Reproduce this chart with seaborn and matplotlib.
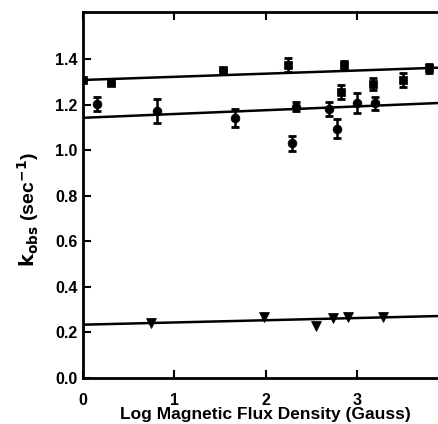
import numpy as np
import pandas as pd
import seaborn as sns
from matplotlib import pyplot as plt

sns.set_style("ticks")
plt.rcParams['font.family'] = ['Liberation Sans', 'DejaVu Sans']
plt.rcParams['font.weight'] = 'bold'
plt.rcParams['text.color'] = 'black'
plt.rcParams['axes.labelcolor'] = 'black'
plt.rcParams['xtick.color'] = 'black'
plt.rcParams['ytick.color'] = 'black'

# top series (squares)
sq_x = [0.0, 0.31, 1.53, 2.24, 2.83, 2.86, 3.18, 3.50, 3.79]
sq_y = [1.307, 1.295, 1.350, 1.373, 1.255, 1.373, 1.290, 1.307, 1.360]
sq_err = [0.0, 0.0, 0.0, 0.03, 0.03, 0.02, 0.025, 0.03, 0.02]
sq_line_x = [0.0, 3.9]
sq_line_y = [1.308, 1.362]

# middle series (circles)
ci_x = [0.15, 0.81, 1.66, 2.33, 2.29, 2.69, 2.78, 3.00, 3.20]
ci_y = [1.202, 1.170, 1.140, 1.190, 1.030, 1.180, 1.095, 1.205, 1.205]
ci_err = [0.03, 0.053, 0.04, 0.02, 0.033, 0.03, 0.04, 0.044, 0.03]
ci_line_x = [0.0, 3.9]
ci_line_y = [1.142, 1.207]

# bottom series (triangles)
tr_x = [0.75, 1.98, 2.55, 2.74, 2.90, 3.28]
tr_y = [0.240, 0.268, 0.228, 0.263, 0.267, 0.268]
tr_line_x = [0.0, 3.9]
tr_line_y = [0.234, 0.272]

fig = plt.figure(figsize=(4.38, 4.24), dpi=100)
ax = fig.add_axes([0.1895, 0.1085, 0.834, 0.863])

for lx, ly in [(sq_line_x, sq_line_y), (ci_line_x, ci_line_y), (tr_line_x, tr_line_y)]:
    sns.lineplot(x=lx, y=ly, ax=ax, color='black', linewidth=1.8)

ax.errorbar(sq_x, sq_y, yerr=sq_err, fmt='none', ecolor='black', elinewidth=1.8, capsize=3, capthick=2)
ax.errorbar(ci_x, ci_y, yerr=ci_err, fmt='none', ecolor='black', elinewidth=1.8, capsize=3, capthick=2)
sns.scatterplot(x=sq_x, y=sq_y, ax=ax, marker='s', s=40, color='black', edgecolor='black')
sns.scatterplot(x=ci_x, y=ci_y, ax=ax, marker='o', s=40, color='black', edgecolor='black')
sns.scatterplot(x=tr_x, y=tr_y, ax=ax, marker='v', s=50, color='black', edgecolor='black')

ax.set_xlim(0, 4.0)
ax.set_ylim(0, 1.606)
ax.set_xticks([0, 1, 2, 3])
ax.set_yticks(np.arange(0, 1.41, 0.2))
ax.set_yticklabels(['0.0', '0.2', '0.4', '0.6', '0.8', '1.0', '1.2', '1.4'])
ax.tick_params(direction='in', length=6, width=1.5, labelsize=11.5, pad=4, top=True, labeltop=False,
               colors='black')
ax.tick_params(axis='x', pad=11)
for lab in ax.get_xticklabels() + ax.get_yticklabels():
    lab.set_fontweight('bold')
for s in ['top', 'left', 'bottom']:
    ax.spines[s].set_linewidth(2)
    ax.spines[s].set_color('black')
ax.spines['right'].set_visible(False)

ax.set_xlabel('Log Magnetic Flux Density (Gauss)', fontsize=12.5, fontweight='bold', labelpad=-1, color='black')
ax.set_ylabel(r'$\mathbf{k_{obs}}$ (sec$^{\mathbf{-1}}$)', fontsize=14, fontweight='bold', color='black')
ax.yaxis.set_label_coords(-0.115, 0.46)

plt.savefig('out.png', dpi=100)
